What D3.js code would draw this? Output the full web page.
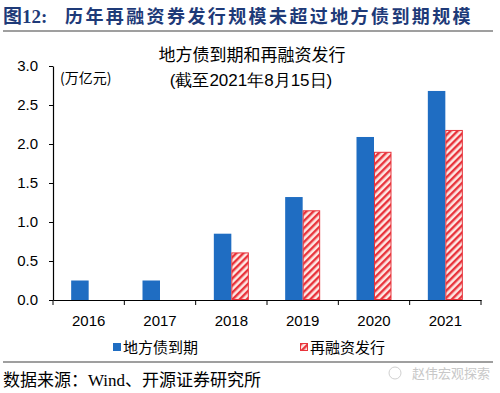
<!DOCTYPE html>
<html>
<head>
<meta charset="utf-8">
<script src="https://cdn.jsdelivr.net/npm/d3@7"></script>
<style>
  body { margin: 0; background: #fff; }
  svg { display: block; }
</style>
</head>
<body>
<svg id="fig"></svg>
<script>
var W = 500, H = 393;

// data
var years = ["2016", "2017", "2018", "2019", "2020", "2021"];
var maturing = [0.25, 0.25, 0.85, 1.32, 2.09, 2.68]; // 地方债到期
var refinance = [0, 0, 0.61, 1.15, 1.90, 2.18];     // 再融资发行
var yTicks = [0, 0.5, 1.0, 1.5, 2.0, 2.5, 3.0];

var blue = "#1f6dc2";
var red = "#e8333b";
var cjk = "'Noto Sans CJK SC', sans-serif";
var latin = "'Liberation Sans', Arial, sans-serif";

var svg = d3.select("#fig").attr("width", W).attr("height", H);

// hatch for the refinancing bars
var pat = svg.append("defs").append("pattern")
  .attr("id", "hatch")
  .attr("patternUnits", "userSpaceOnUse")
  .attr("width", 5).attr("height", 5)
  .attr("patternTransform", "rotate(45)");
pat.append("rect").attr("width", 5).attr("height", 5).attr("fill", "#fde8e4");
pat.append("rect").attr("width", 2.4).attr("height", 5).attr("fill", red);

// page title + rules
var ttl = svg.append("g").attr("fill", "#1e3a78")
  .style("font-weight", "bold").style("font-size", "19px");
ttl.append("text").attr("x", 3).attr("y", 23)
  .style("font-family", "'Liberation Serif', " + cjk).text("图12:");
ttl.append("text").attr("x", 65).attr("y", 23)
  .style("font-family", cjk).style("font-size", "18px").style("letter-spacing", "2.4px")
  .text("历年再融资券发行规模未超过地方债到期规模");
svg.append("line").attr("x1", 3).attr("x2", 493).attr("y1", 31).attr("y2", 31)
  .attr("stroke", "#7f7f7f").attr("stroke-width", 1.5);
svg.append("line").attr("x1", 3).attr("x2", 493).attr("y1", 362).attr("y2", 362)
  .attr("stroke", "#7f7f7f").attr("stroke-width", 1.5);

// scales
var x = d3.scaleBand().domain(years).range([53, 481]);
var y = d3.scaleLinear().domain([0, 3]).range([300, 66]);
var bw = 17.5;

// axes
var yAxis = svg.append("g").attr("transform", "translate(53,0)")
  .call(d3.axisLeft(y).tickValues(yTicks).tickFormat(d3.format(".1f")).tickSize(4).tickSizeOuter(0));
yAxis.selectAll("text").attr("x", -15).style("font-family", latin).style("font-size", "15px").attr("fill", "#000");

var xAxis = svg.append("g").attr("transform", "translate(0,300)")
  .call(d3.axisBottom(x).tickSize(0).tickSizeOuter(0));
xAxis.selectAll("text").attr("dy", "1.55em").style("font-family", latin).style("font-size", "15px").attr("fill", "#000");
// tick marks at band edges
xAxis.selectAll("line.edge")
  .data(years.map(function(d) { return x(d); }).concat([481]))
  .enter().append("line").attr("class", "edge")
  .attr("x1", function(d) { return d; }).attr("x2", function(d) { return d; })
  .attr("y1", 0).attr("y2", 5).attr("stroke", "#000");
svg.selectAll(".domain").attr("stroke", "#000").attr("stroke-width", 1.2);

// bars
svg.append("g").selectAll("rect").data(maturing).enter().append("rect")
  .attr("x", function(d, i) { return x(years[i]) + x.bandwidth() / 2 - bw; })
  .attr("y", function(d) { return y(d); })
  .attr("width", bw)
  .attr("height", function(d) { return y(0) - y(d); })
  .attr("fill", blue);

svg.append("g").selectAll("rect").data(refinance).enter().append("rect")
  .filter(function(d) { return d > 0; })
  .attr("x", function(d) { return x(years[refinance.indexOf(d)]) + x.bandwidth() / 2 + 0.5; })
  .attr("y", function(d) { return y(d) + 0.5; })
  .attr("width", bw - 1)
  .attr("height", function(d) { return y(0) - y(d) - 1; })
  .attr("fill", "url(#hatch)")
  .attr("stroke", red).attr("stroke-width", 1);

// unit + chart title
svg.append("text").attr("x", 60).attr("y", 83)
  .style("font-family", cjk).style("font-size", "14px").text("(万亿元)");
svg.append("text").attr("x", 252).attr("y", 61).attr("text-anchor", "middle")
  .style("font-family", cjk).style("font-size", "17px").text("地方债到期和再融资发行");
svg.append("text").attr("x", 251).attr("y", 86).attr("text-anchor", "middle")
  .style("font-family", latin).style("font-size", "17px").text("(截至2021年8月15日)");

// legend
var lg = svg.append("g").style("font-family", cjk).style("font-size", "15px");
lg.append("rect").attr("x", 113).attr("y", 343).attr("width", 8).attr("height", 8).attr("fill", blue);
lg.append("text").attr("x", 123).attr("y", 353).text("地方债到期");
lg.append("rect").attr("x", 300.5).attr("y", 343.5).attr("width", 7).attr("height", 7)
  .attr("fill", "url(#hatch)").attr("stroke", red);
lg.append("text").attr("x", 310).attr("y", 353).text("再融资发行");

// source + watermark
svg.append("text").attr("x", 3).attr("y", 386)
  .style("font-family", "'Liberation Serif', " + cjk).style("font-size", "17px")
  .text("数据来源：Wind、开源证券研究所");
svg.append("text").attr("x", 412).attr("y", 378)
  .style("font-family", cjk).style("font-size", "13px").attr("fill", "#c8c8c8")
  .text("赵伟宏观探索");
svg.append("circle").attr("cx", 395).attr("cy", 373).attr("r", 6)
  .attr("fill", "none").attr("stroke", "#d0d0d0");
</script>
</body>
</html>
